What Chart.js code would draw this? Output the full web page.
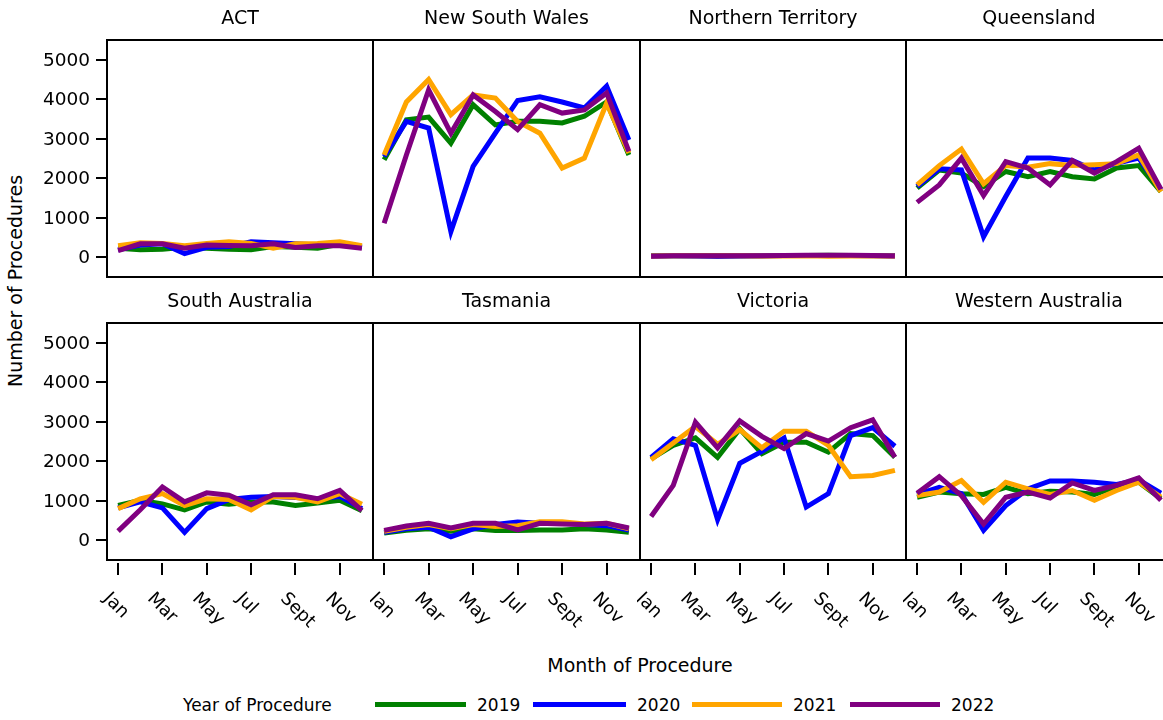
<!DOCTYPE html>
<html>
<head>
<meta charset="UTF-8">
<title>Number of Procedures by State</title>
<script src="https://cdn.jsdelivr.net/npm/chart.js"></script>
<style>
  body { margin: 0; background: #fff; font-family: "DejaVu Sans", sans-serif; color: #000; }
  #page { position: relative; width: 1163px; height: 720px; overflow: hidden; }
  #page canvas { position: absolute; }
  .txt { position: absolute; white-space: nowrap; line-height: 20px; }
  .swatch { position: absolute; height: 5px; }
</style>
</head>
<body>
<div id="page">
  <div class="txt" id="ytitle" style="font-size:19px; left:15px; top:281px; transform: translate(-50%,-50%) rotate(-90deg);">Number of Procedures</div>
  <div class="txt" style="font-size:19px; left:640px; top:665px; transform: translate(-50%,-50%);">Month of Procedure</div>

  <div class="txt" style="font-size:17px; left:183px; top:695px;">Year of Procedure</div>
  <div class="swatch" style="left:375px; width:91px; top:702px; background:#008000;"></div>
  <div class="txt" style="font-size:17px; left:477px; top:695px;">2019</div>
  <div class="swatch" style="left:533px; width:93px; top:702px; background:#0000ff;"></div>
  <div class="txt" style="font-size:17px; left:637px; top:695px;">2020</div>
  <div class="swatch" style="left:692px; width:90px; top:702px; background:#ffa500;"></div>
  <div class="txt" style="font-size:17px; left:793px; top:695px;">2021</div>
  <div class="swatch" style="left:850px; width:90px; top:702px; background:#800080;"></div>
  <div class="txt" style="font-size:17px; left:951px; top:695px;">2022</div>
</div>

<script>
// months on the x axis, only every second one gets a label
const months = ['Jan','Feb','Mar','Apr','May','Jun','Jul','Aug','Sept','Oct','Nov','Dec'];
const yTicks = [0, 1000, 2000, 3000, 4000, 5000];
const years = ['2019', '2020', '2021', '2022'];
const yearColors = ['#008000', '#0000ff', '#ffa500', '#800080'];

const states = ['ACT', 'New South Wales', 'Northern Territory', 'Queensland',
                'South Australia', 'Tasmania', 'Victoria', 'Western Australia'];

// one row per year: 2019, 2020, 2021, 2022
const actData = [
  [230,190,200,250,230,200,190,270,250,230,330,270],
  [190,310,340,90,250,270,390,370,340,310,340,250],
  [290,370,350,290,350,390,350,230,340,350,390,290],
  [170,340,340,230,310,300,290,340,250,290,290,230]
];
const nswData = [
  [2470,3480,3550,2890,3860,3350,3440,3440,3400,3570,3930,2590],
  [2550,3440,3270,650,2300,3140,3970,4060,3930,3780,4330,2970],
  [2590,3930,4500,3610,4110,4030,3440,3140,2260,2510,3900,2640],
  [860,2590,4240,3140,4110,3690,3230,3860,3650,3730,4160,2680]
];
const ntData = [
  [40,35,40,35,40,40,45,45,50,45,45,35],
  [30,35,30,20,30,40,45,45,45,45,40,35],
  [30,35,35,35,35,30,30,35,25,30,30,30],
  [25,35,35,35,35,40,45,50,50,50,45,30]
];
const qldData = [
  [1750,2210,2130,1790,2170,2040,2170,2040,1980,2260,2320,1660],
  [1790,2240,2210,520,1540,2510,2510,2450,2210,2380,2510,1710],
  [1830,2320,2740,1860,2320,2280,2370,2320,2340,2370,2590,1660],
  [1390,1830,2510,1560,2420,2260,1830,2450,2130,2420,2760,1720]
];
const saData = [
  [880,1010,920,770,970,910,970,970,880,940,1010,750],
  [820,970,820,200,800,1030,1090,1110,1080,1050,1110,800],
  [800,1050,1180,880,1050,1030,770,1110,1090,970,1180,910],
  [230,770,1350,970,1200,1140,900,1150,1150,1050,1260,750]
];
const tasData = [
  [180,250,290,230,290,250,250,260,260,290,260,200],
  [200,290,330,90,290,400,460,430,430,400,370,260],
  [230,330,400,290,400,350,370,470,470,410,430,290],
  [250,360,430,310,430,430,260,430,410,400,430,310]
];
const vicData = [
  [2060,2400,2590,2100,2820,2190,2480,2480,2230,2700,2650,2100],
  [2100,2570,2400,520,1950,2250,2590,840,1180,2650,2850,2380],
  [2040,2460,2880,2430,2800,2340,2760,2760,2400,1610,1640,1770],
  [600,1390,2990,2340,3020,2630,2320,2700,2510,2850,3050,2100]
];
const waData = [
  [1090,1220,1180,1160,1340,1180,1240,1220,1160,1360,1470,1050],
  [1160,1340,1180,250,880,1300,1500,1500,1470,1410,1530,1190],
  [1130,1220,1510,960,1470,1300,1160,1260,1010,1260,1470,1090],
  [1190,1610,1130,410,1090,1220,1070,1450,1260,1390,1580,1010]
];
const stateData = [actData, nswData, ntData, qldData, saData, tasData, vicData, waData];

// panel boxes
const colLeft = [107, 373, 640, 906];
const colWidth = [266, 267, 266, 266];
const rowTop = [40, 323];
const panelH = 237;

// frame, ticks, labels and title of every panel
const panelPlugin = {
  id: 'panel',
  afterDraw(chart, args, opts) {
    const ctx = chart.ctx;
    const a = chart.chartArea;
    const xs = chart.scales.x;
    const ys = chart.scales.y;
    ctx.save();
    ctx.fillStyle = '#000';
    ctx.strokeStyle = '#000';

    ctx.lineWidth = 2;
    ctx.strokeRect(a.left, a.top, a.right - a.left, a.bottom - a.top);

    ctx.font = '19px "DejaVu Sans"';
    ctx.textAlign = 'center';
    ctx.textBaseline = 'middle';
    ctx.fillText(opts.title, (a.left + a.right) / 2, a.top - 21);

    if (opts.showY) {
      ctx.font = '18.5px "DejaVu Sans"';
      ctx.textAlign = 'right';
      ctx.lineWidth = 2;
      yTicks.forEach(v => {
        const y = Math.round(ys.getPixelForValue(v));
        ctx.beginPath();
        ctx.moveTo(a.left - 11, y);
        ctx.lineTo(a.left, y);
        ctx.stroke();
        ctx.fillText(String(v), a.left - 17, y + 1);
      });
    }

    if (opts.showX) {
      ctx.font = '18px "DejaVu Sans"';
      ctx.textAlign = 'left';
      ctx.lineWidth = 2;
      months.forEach((m, i) => {
        if (i % 2 !== 0) return;
        const x = Math.round(xs.getPixelForValue(i));
        ctx.beginPath();
        ctx.moveTo(x, a.bottom + 3);
        ctx.lineTo(x, a.bottom + 15);
        ctx.stroke();
        ctx.save();
        ctx.translate(x - 12, a.bottom + 36);
        ctx.rotate(Math.PI / 4);
        ctx.fillText(m, 0, 0);
        ctx.restore();
      });
    }
    ctx.restore();
  }
};

const page = document.getElementById('page');

states.forEach((name, i) => {
  const col = i % 4;
  const row = Math.floor(i / 4);
  const pad = { left: col === 0 ? 107 : 3, right: 3, top: 40, bottom: row === 1 ? 100 : 3 };

  const canvas = document.createElement('canvas');
  canvas.width = colWidth[col] + pad.left + pad.right;
  canvas.height = panelH + pad.top + pad.bottom;
  canvas.style.left = (colLeft[col] - pad.left) + 'px';
  canvas.style.top = (rowTop[row] - pad.top) + 'px';
  page.appendChild(canvas);

  const datasets = years.map((yr, k) => ({
    label: yr,
    data: stateData[i][k],
    borderColor: yearColors[k],
    backgroundColor: yearColors[k],
    borderWidth: 5,
    pointRadius: 0,
    tension: 0,
    order: 3 - k  // 2022 on top
  }));

  new Chart(canvas.getContext('2d'), {
    type: 'line',
    data: { labels: months, datasets: datasets },
    options: {
      responsive: false,
      animation: false,
      devicePixelRatio: 1,
      layout: { padding: pad },
      scales: {
        x: { type: 'category', offset: true, display: false },
        y: { type: 'linear', min: -500, max: 5500, display: false }
      },
      plugins: {
        legend: { display: false },
        tooltip: { enabled: false },
        panel: { title: name, showY: col === 0, showX: row === 1 }
      }
    },
    plugins: [panelPlugin]
  });
});
</script>
</body>
</html>
